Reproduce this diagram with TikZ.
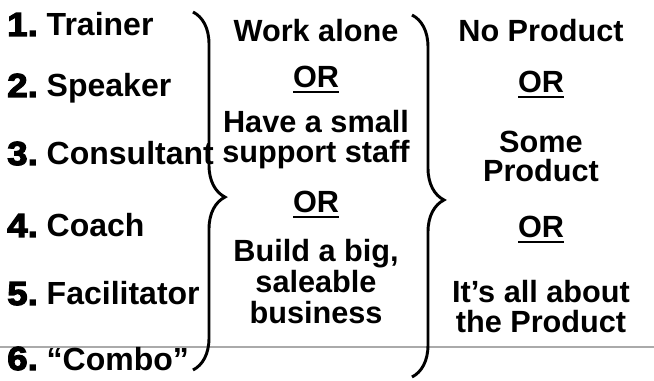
\documentclass[tikz,border=0pt]{standalone}
\usepackage{fontspec}
\setmainfont{Liberation Sans}
\newfontface\numfont{Liberation Sans Bold}[FakeBold=3.5,FakeStretch=1.1]
\usetikzlibrary{decorations.pathreplacing}

\definecolor{ruleGray}{RGB}{170,170,170}

% thick rule under the "OR" words
\newcommand\orul[1]{\sbox0{#1}\rlap{\rule[-4pt]{\wd0}{2pt}}\usebox0}

\begin{document}
\begin{tikzpicture}[
  x=0.75pt, y=-0.75pt,
  every node/.style={font=\fontsize{23pt}{23pt}\selectfont\bfseries, inner sep=0pt},
  role/.style={anchor=base west, font=\fontsize{24pt}{24pt}\selectfont\bfseries},
  choice/.style={anchor=base},
  bracket/.style={decorate, decoration={brace, amplitude=24pt, aspect=#1}, line width=2.2pt},
]
\useasboundingbox (0,0) rectangle (654,381);

% Grey rule behind the last row
\draw[ruleGray, line width=1.1pt] (0,347) -- (654,347);

% Roles
\foreach \n/\y/\txt in {1/36/Trainer, 2/97/Speaker, 3/165/Consultant,
                        4/237/Coach, 5/305/Facilitator, 6/370/“Combo”}
  \node[role] (role\n) at (7,\y) {{\numfont\fontsize{25pt}{25pt}\selectfont\n.}~\txt};

% Team size
\foreach \y/\txt [count=\i] in {42/Work alone, 88/\orul{OR}, 133/Have a small,
                                163/support staff, 213/\orul{OR}, 262/{Build a big,},
                                293/saleable, 324/business}
  \node[choice] (team\i) at (316,\y) {\txt};

% Product
\foreach \y/\txt [count=\i] in {42/No Product, 93/\orul{OR}, 153/Some, 182/Product,
                                238/\orul{OR}, 303/It’s all about, 333/the Product}
  \node[choice] (prod\i) at (541,\y) {\txt};

% Braces
\draw[bracket=0.517] (193,12) -- (193,370);
\draw[bracket=0.511] (412,15) -- (412,377);

\end{tikzpicture}
\end{document}
